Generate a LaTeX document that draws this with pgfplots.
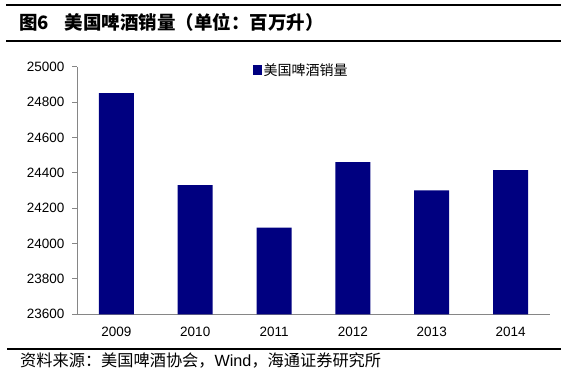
\documentclass[border=0pt]{standalone}
\usepackage{pgfplots}
\pgfplotsset{compat=1.18}
\usepackage{fontspec}
\setmainfont{Liberation Sans}
\newfontfamily\cjk{Noto Sans CJK SC}
\definecolor{barblue}{RGB}{0,0,128}
\definecolor{axgray}{RGB}{134,134,134}
\begin{document}
\begin{tikzpicture}
\useasboundingbox (0,0) rectangle (572bp,377bp);
\draw[line width=2bp] (6bp,372bp) -- (561bp,372bp);
\draw[line width=2bp] (6bp,336bp) -- (561bp,336bp);
\draw[line width=2bp] (7bp,28bp) -- (561bp,28bp);
\node[anchor=west, inner sep=0] at (19bp,355bp) {\fontsize{18.5bp}{21bp}\selectfont\cjk\bfseries 图6\hspace{0.85em}美国啤酒销量（单位：百万升）};
\node[anchor=west, inner sep=0] at (20bp,16bp) {\fontsize{16.2bp}{19bp}\selectfont{\cjk 资料来源：美国啤酒协会，}Wind{\cjk ，海通证券研究所}};
\begin{axis}[
  at={(77bp,62.7bp)}, anchor=south west,
  scale only axis, width=473bp, height=247.6bp,
  xmin=-0.5, xmax=5.5, ymin=23600, ymax=25000,
  ytick={23600,23800,...,25000},
  scaled y ticks=false,
  xtick={0,...,5}, xticklabels={2009,2010,2011,2012,2013,2014},
  minor xtick={-0.5,0.5,...,5.5},
  axis x line*=bottom, axis y line*=left,
  axis line style={axgray, line width=1bp, -},
  tick align=outside,
  major tick length=5bp, minor tick length=5bp,
  xtick style={draw=none},
  every minor tick/.style={axgray, line width=1bp},
  ytick style={axgray, line width=1bp},
  tick label style={font=\fontsize{13.5bp}{15bp}\selectfont},
  xticklabel style={yshift=-4bp},
  yticklabel style={xshift=-4bp, /pgf/number format/fixed, /pgf/number format/precision=0, /pgf/number format/set thousands separator={}, /pgf/number format/assume math mode=true},
  legend style={draw=none, fill=none, at={(0.474,0.987)}, anchor=center,
    font=\fontsize{14bp}{16bp}\selectfont\cjk},
  legend image code/.code={\fill[barblue] (0bp,-5bp) rectangle (9bp,5bp);},
]
\addplot[ybar, bar width=35bp, fill=barblue, draw=none] coordinates {(0,24850) (1,24330) (2,24090) (3,24460) (4,24300) (5,24415)};
\addlegendentry{美国啤酒销量}
\end{axis}
\end{tikzpicture}
\end{document}
